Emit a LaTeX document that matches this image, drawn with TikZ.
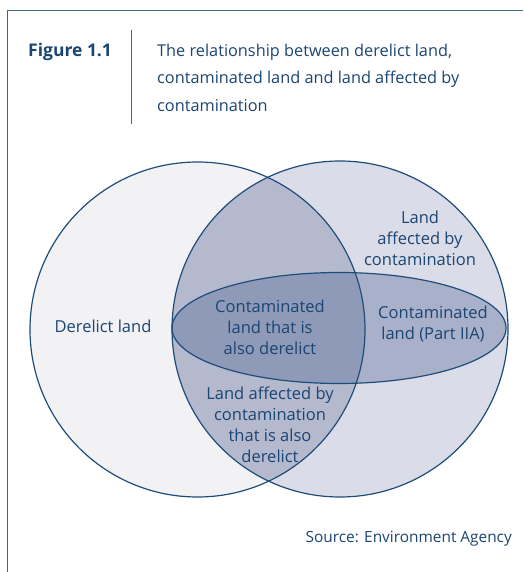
\documentclass[tikz,border=0pt]{standalone}
\usepackage{fontspec}
\setmainfont{Open Sans}
\definecolor{ink}{HTML}{1B4572}
\definecolor{frame}{HTML}{3C6890}
\definecolor{outline}{HTML}{1E4D7B}
\definecolor{derelictbg}{HTML}{F2F2F5}
\definecolor{affectedbg}{HTML}{DADDE8}
\definecolor{overlapbg}{HTML}{B4B9CE}
\definecolor{contambg}{HTML}{A9B0C9}
\definecolor{bothbg}{HTML}{8E9AB7}

\begin{document}
\begin{tikzpicture}[x=1pt,y=-1pt,
    every node/.style={text=ink, align=center, font=\fontsize{16.5}{21}\selectfont},
    ring/.style={draw=outline, line width=1.2pt}]
    \useasboundingbox (0,0) rectangle (523,572);
    % frame and heading
    \draw[frame, line width=1pt] (7,572) -- (7,11) -- (523,11);
    \node[anchor=base west, inner sep=0pt, font=\bfseries\fontsize{17.5}{21}\selectfont] (fig) at (28,57) {Figure 1.1};
    \coordinate (ruletop) at (131,30);
    \coordinate (rulebot) at (131,124);
    \draw[frame, line width=1pt] (ruletop) -- (rulebot);
    \node[anchor=north west, align=left, inner sep=0pt, font=\fontsize{16.3}{27.5}\selectfont] (title) at (157,43.5)
        {The relationship between derelict land,\\contaminated land and land affected by\\contamination};
    % the three sets
    \def\derelict{(197.5,329.5) circle[radius=167.5pt]}
    \def\affected{(340,329) circle[radius=168pt]}
    \def\contam{(339,328) ellipse[x radius=167pt, y radius=55.5pt]}
    \fill[derelictbg] \derelict;
    \fill[affectedbg] \affected;
    \begin{scope}
        \clip \derelict;
        \fill[overlapbg] \affected;
    \end{scope}
    \fill[contambg] \contam;
    \begin{scope}
        \clip \derelict;
        \fill[bothbg] \contam;
    \end{scope}
    \draw[ring] \derelict;
    \draw[ring] \affected;
    \draw[ring] \contam;
    % labels
    \node (dl) at (103,326) {Derelict land};
    \node (af) at (420,238) {Land\\affected by\\contamination};
    \node (cd) at (270,327) {Contaminated\\land that is\\also derelict};
    \node (cl) at (433,324) {Contaminated\\land (Part IIA)};
    \node (ad) at (270,425) {Land affected by\\contamination\\that is also\\derelict};
    \node[anchor=base east, inner sep=0pt, font=\fontsize{15.4}{21}\selectfont] (src) at (512,542) {Source: Environment Agency};
\end{tikzpicture}
\end{document}
